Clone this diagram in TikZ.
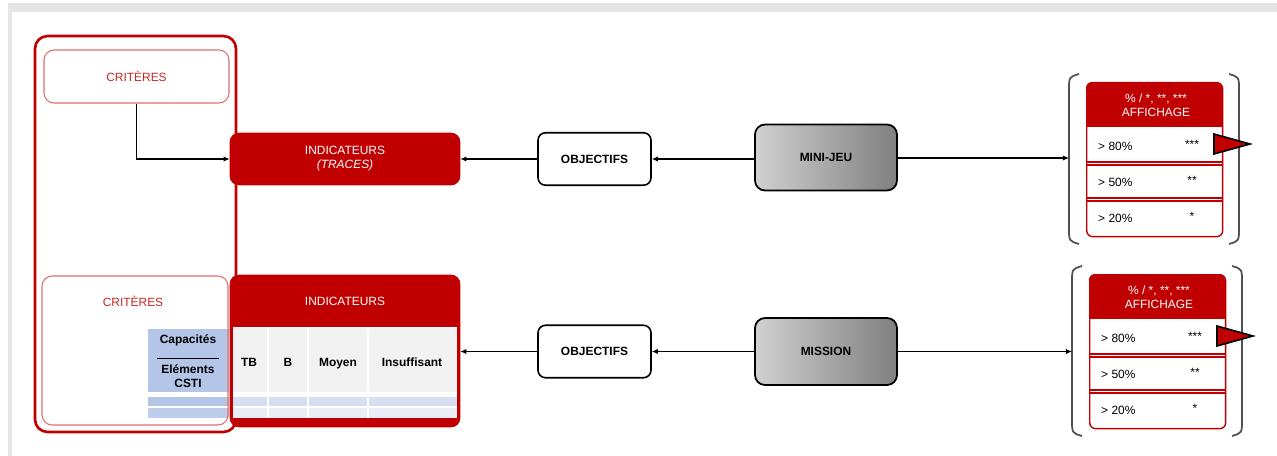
\documentclass[tikz,border=0pt]{standalone}
\usepackage{fontspec}
\setmainfont{Liberation Sans}
\usetikzlibrary{arrows.meta}
\definecolor{rouge}{HTML}{C00000}
\definecolor{rougeclair}{HTML}{E07070}
\definecolor{bleufonce}{HTML}{B4C6E7}
\definecolor{bleu}{HTML}{D6DFF0}
\definecolor{bleuclair}{HTML}{E9EEF7}
\definecolor{grisfond}{HTML}{F2F2F2}
\definecolor{accol}{HTML}{505050}

\begin{document}
\begin{tikzpicture}[>={Latex[length=3.5pt,width=3pt]},x=0.02cm,y=-0.02cm,
  every node/.style={font=\fontsize{6.8}{8}\selectfont},
  fleche/.style={->,line width=0.6pt},
  boite/.style={draw,line width=0.9pt,rounded corners=0.15cm,fill=white,
    minimum width=2.26cm,minimum height=1.05cm,font=\fontsize{6.8}{8}\selectfont\bfseries},
  jeu/.style={draw,line width=1pt,rounded corners=0.2cm,left color=black!18,right color=black!50,
    minimum width=2.84cm,minimum height=1.32cm,font=\fontsize{6.8}{8}\selectfont\bfseries},
  critere/.style={draw=rougeclair,line width=0.6pt,rounded corners=0.2cm,text=rouge!85},
  indic/.style={fill=rouge,draw=rouge,rounded corners=0.18cm,text=white,minimum width=4.6cm},
  colonne/.style={font=\fontsize{6.8}{8}\selectfont\bfseries},
  accolade/.style={draw=accol,line width=1pt}]
\useasboundingbox (0,0) rectangle (1277,456);
% page
\fill[black!10] (8,3) rectangle (1277,456);
\fill[white] (12,12) rectangle (1277,456);

% cadre des criteres
\node[draw=rouge,line width=1.5pt,rounded corners=0.25cm,minimum width=4.02cm,minimum height=7.92cm] (cadre) at (135.5,234) {};
\node[critere,minimum width=3.7cm,minimum height=1.06cm] (crit1) at (136.5,76.5) {CRITÈRES};

% ligne du haut
\node[indic,minimum height=1.04cm,align=center] (ind1) at (345,159) {INDICATEURS\\\textit{(TRACES)}};
\node[boite] (obj1) at (594.5,159) {OBJECTIFS};
\node[jeu] (mini) at (826,157.5) {MINI-JEU};
\draw[fleche] (crit1.south) |- (ind1.west);
\draw[fleche] (obj1.west) -- (ind1.east);
\draw[fleche] (mini.west |- obj1.east) -- (obj1.east);

% tableau des capacites
\fill[bleufonce] (148,329) rectangle (229,392);
\fill[bleufonce] (148,397) rectangle (229,406);
\fill[bleufonce!70!bleu] (148,408) rectangle (229,418);
\node[colonne] (capa) at (188,340) {Capacités};
\draw[line width=0.5pt] (157,358) -- (219,358);
\node[colonne,align=center,font=\fontsize{6.8}{7.8}\selectfont\bfseries] (csti) at (188,376) {Eléments\\CSTI};
\node[critere,minimum width=3.72cm,minimum height=2.98cm] (crit2) at (135,350.5) {};
\node[text=rouge!85] (titrecrit2) at (133,301) {CRITÈRES};

% ligne du bas
\node[indic,minimum height=3.04cm] (ind2) at (345,351) {};
\fill[white] (233,327) rectangle (457,418);
\fill[grisfond] (233,328) rectangle (457,392);
\fill[bleu] (233,397) rectangle (457,406);
\fill[bleuclair] (233,408) rectangle (457,418);
\foreach \x in {268,308,368}
  \draw[white,line width=1pt] (\x,328) -- (\x,418);
\node[text=white] (titreind2) at (345,301) {INDICATEURS};
\foreach \x/\t [count=\i] in {249/TB,288/B,338/Moyen,412/Insuffisant}
  \node[colonne,anchor=base] (col\i) at (\x,366) {\t};
\node[boite] (obj2) at (594.5,351.5) {OBJECTIFS};
\node[jeu,minimum height=1.34cm] (mission) at (826,351.5) {MISSION};
\draw[fleche] (obj2.west) -- (ind2.east |- obj2.west);
\draw[fleche] (mission.west) -- (obj2.east);

% tableaux d'affichage
\foreach \t/\x/\y in {1/1086/82,2/1089/274} {
  \draw[accolade] (\x-7,\y-8) .. controls (\x-17,\y-5) .. (\x-17,\y+8) -- (\x-17,\y+146) .. controls (\x-17,\y+159) .. (\x-7,\y+162);
  \draw[accolade] (\x+143,\y-8) .. controls (\x+153,\y-5) .. (\x+153,\y+8) -- (\x+153,\y+146) .. controls (\x+153,\y+159) .. (\x+143,\y+162);
  \coordinate (entree\t) at (\x-17,\y+76);
  \node[draw=rouge,line width=0.8pt,fill=white,rounded corners=0.12cm,anchor=north west,
    minimum width=2.72cm,minimum height=3.08cm,inner sep=0pt] (aff\t) at (\x,\y) {};
  \begin{scope}
    \clip[rounded corners=0.12cm] (\x,\y) rectangle (\x+136,\y+154);
    \fill[rouge] (\x,\y) rectangle (\x+136,\y+45);
  \end{scope}
  \draw[rouge,line width=0.8pt] (\x,\y+80) -- (\x+136,\y+80) (\x,\y+83) -- (\x+136,\y+83)
    (\x,\y+116) -- (\x+136,\y+116) (\x,\y+119) -- (\x+136,\y+119);
  \node[text=white,align=center] (titre\t) at (\x+70,\y+23) {\% / *, **, ***\\AFFICHAGE};
  \foreach \p/\e [count=\k from 0] in {80/***,50/**,20/*} {
    \node[anchor=west] (pct\t\k) at (\x+6,\y+64+36*\k) {> \p\%};
    \node (etoile\t\k) at (\x+106,\y+62+36*\k) {\e};
  }
  \draw[fill=rouge,line width=0.9pt] (\x+128,\y+52) -- (\x+164,\y+62) -- (\x+128,\y+72) -- cycle;
}
\draw[fleche] (mini.east |- entree1) -- (entree1);
\draw[fleche] (mission.east) -- (mission.east -| entree2);
\end{tikzpicture}
\end{document}
